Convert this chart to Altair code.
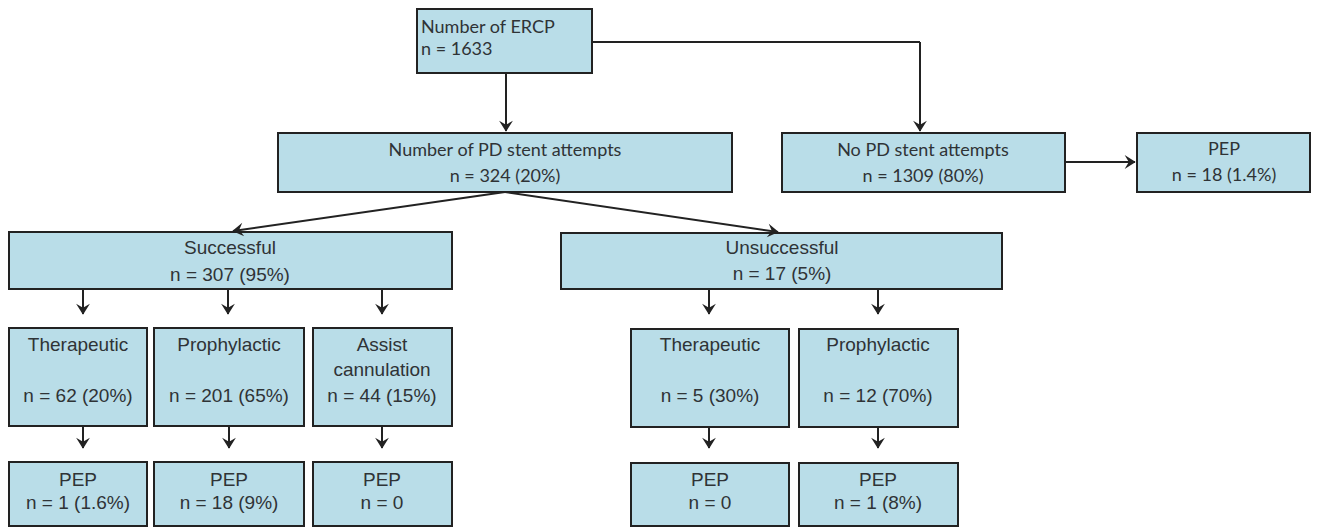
import math
import altair as alt
import pandas as pd

# ---------------- data ----------------
# boxes: left, right, top, bottom (pixel layout of the flow chart)
box_id = ["ercp", "pd", "nopd", "pep_nopd", "succ", "unsucc",
          "s_ther", "s_pro", "s_asst", "u_ther", "u_pro",
          "s_ther_pep", "s_pro_pep", "s_asst_pep", "u_ther_pep", "u_pro_pep"]
box_x0 = [417, 278, 782, 1137, 9, 561, 9, 154, 313, 631, 799, 9, 154, 313, 631, 799]
box_x1 = [592, 732, 1065, 1310, 452, 1002, 147, 304, 452, 789, 958, 147, 304, 452, 789, 958]
box_y0 = [9, 133, 133, 133, 232, 233, 328, 328, 328, 329, 329, 462, 462, 462, 463, 463]
box_y1 = [73, 192, 192, 192, 289, 289, 426, 426, 426, 427, 427, 526, 526, 526, 526, 526]

# text lines (Calibri-like group)
t1_text = ["Number of PD stent attempts", "n = 324 (20%)",
           "No PD stent attempts", "n = 1309 (80%)",
           "PEP", "n = 18 (1.4%)"]
t1_x = [505, 505, 923, 923, 1224, 1224]
t1_y = [151, 177, 151, 177, 150, 176]

# left aligned text in the top box
t0_text = ["Number of ERCP", "n = 1633"]
t0_x = [421, 421]
t0_y = [28, 50]

# Arial-like group
t2_text = ["Successful", "n = 307 (95%)", "Unsuccessful", "n = 17 (5%)",
           "Therapeutic", "n = 62 (20%)", "Prophylactic", "n = 201 (65%)",
           "Assist", "cannulation", "n = 44 (15%)",
           "Therapeutic", "n = 5 (30%)", "Prophylactic", "n = 12 (70%)",
           "PEP", "n = 1 (1.6%)", "PEP", "n = 18 (9%)", "PEP", "n = 0",
           "PEP", "n = 0", "PEP", "n = 1 (8%)"]
t2_x = [230, 230, 782, 782,
        78, 78, 229, 229,
        382, 382, 382,
        710, 710, 878, 878,
        78, 78, 229, 229, 382, 382,
        710, 710, 878, 878]
t2_y = [248, 275, 248, 274,
        345, 396, 345, 396,
        345, 370, 396,
        345, 396, 345, 396,
        480, 503, 480, 503, 480, 503,
        480, 503, 480, 503]

# connector segments: start, end, arrowhead at end?
seg_x1 = [506, 592, 920, 505, 505, 1065, 83, 228, 382, 709, 878, 83, 229, 382, 709, 878]
seg_y1 = [73, 42, 42, 192, 192, 162, 289, 289, 289, 289, 289, 426, 426, 426, 427, 427]
seg_x2 = [506, 920, 920, 233, 778, 1135, 83, 228, 382, 709, 878, 83, 229, 382, 709, 878]
seg_y2 = [131, 42, 131, 231, 232, 162, 314, 314, 314, 314, 314, 448, 448, 448, 448, 448]
seg_head = [True, False, True, True, True, True, True, True, True, True, True,
            True, True, True, True, True]

# ---------------- build tables ----------------
boxes = pd.DataFrame({"id": box_id, "x0": box_x0, "x1": box_x1,
                      "y0": box_y0, "y1": box_y1})
txt0 = pd.DataFrame({"t": t0_text, "x": t0_x, "y": t0_y})
txt1 = pd.DataFrame({"t": t1_text, "x": t1_x, "y": t1_y})
txt2 = pd.DataFrame({"t": t2_text, "x": t2_x, "y": t2_y})
segs = pd.DataFrame({"x1": seg_x1, "y1": seg_y1, "x2": seg_x2, "y2": seg_y2,
                     "head": seg_head})
heads = segs[segs["head"]].copy()
heads["angle"] = [
    (math.degrees(math.atan2(-(r.x2 - r.x1), (r.y2 - r.y1))) + 360) % 360
    for r in heads.itertuples()
]

W, H = 1304, 519
xs = alt.Scale(domain=[8, 8 + W], zero=False, nice=False)
ys = alt.Scale(domain=[8, 8 + H], zero=False, nice=False, reverse=True)
noax = None

FILL = "#b9dde8"
EDGE = "#222222"
LINE = "#222222"
TXT = "#2f3336"

rects = alt.Chart(boxes).mark_rect(fill=FILL, stroke=EDGE, strokeWidth=2).encode(
    x=alt.X("x0:Q", scale=xs, axis=noax),
    x2="x1:Q",
    y=alt.Y("y0:Q", scale=ys, axis=noax),
    y2="y1:Q",
)

lines = alt.Chart(segs).mark_rule(color=LINE, strokeWidth=2).encode(
    x=alt.X("x1:Q", scale=xs, axis=noax),
    y=alt.Y("y1:Q", scale=ys, axis=noax),
    x2="x2:Q",
    y2="y2:Q",
)

arrow_path = "M0,0.1 L-1,-1.5 L0,-0.9 L1,-1.5 Z"
arrows = alt.Chart(heads).mark_point(
    shape=arrow_path, filled=True, color=LINE, opacity=1, size=190
).encode(
    x=alt.X("x2:Q", scale=xs, axis=noax),
    y=alt.Y("y2:Q", scale=ys, axis=noax),
    angle=alt.Angle("angle:Q", scale=None),
)

text0 = alt.Chart(txt0).mark_text(
    align="left", baseline="middle", font="Lato", fontSize=18, color=TXT
).encode(x=alt.X("x:Q", scale=xs, axis=noax), y=alt.Y("y:Q", scale=ys, axis=noax), text="t:N")

text1 = alt.Chart(txt1).mark_text(
    align="center", baseline="middle", font="Lato", fontSize=18, color=TXT
).encode(x=alt.X("x:Q", scale=xs, axis=noax), y=alt.Y("y:Q", scale=ys, axis=noax), text="t:N")

text2 = alt.Chart(txt2).mark_text(
    align="center", baseline="middle", font="Liberation Sans", fontSize=19, color=TXT
).encode(x=alt.X("x:Q", scale=xs, axis=noax), y=alt.Y("y:Q", scale=ys, axis=noax), text="t:N")

chart = alt.layer(rects, lines, arrows, text0, text1, text2).properties(
    width=W, height=H, padding=0, background="white"
).configure_view(stroke=None)

chart.save("out.html", embed_options={"renderer": "svg", "actions": False})
